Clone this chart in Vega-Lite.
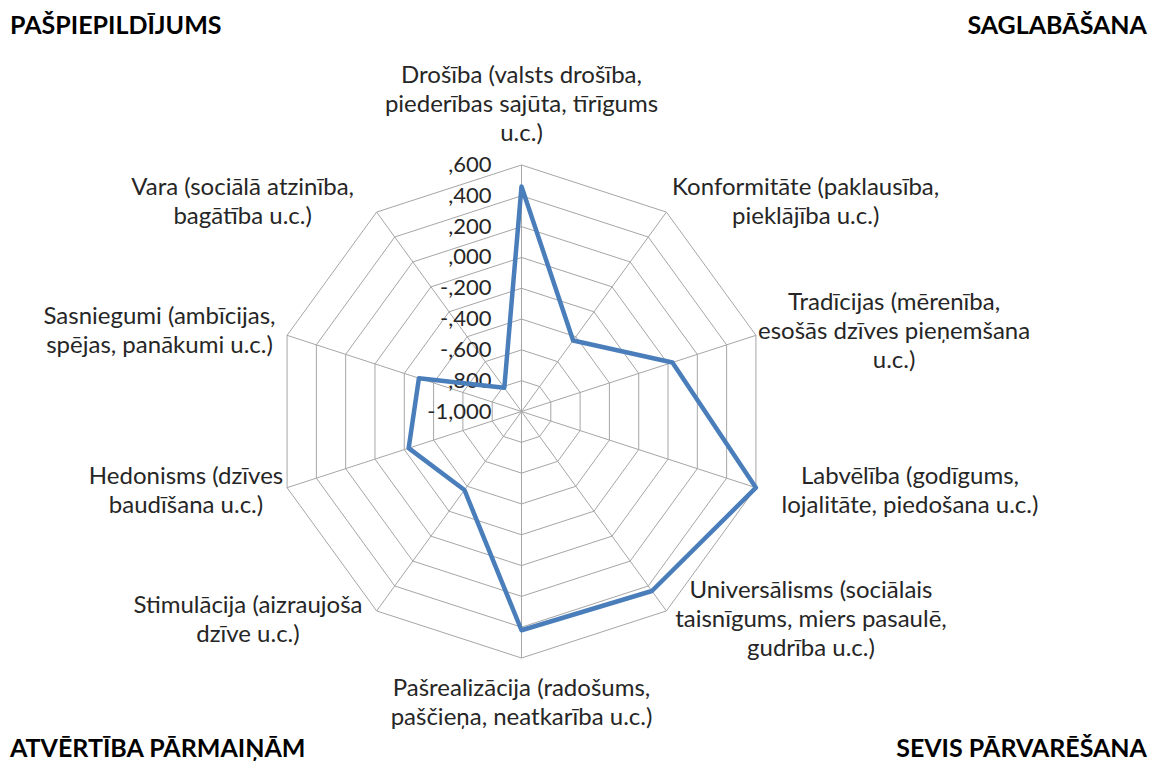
{
  "$schema": "https://vega.github.io/schema/vega-lite/v6.json",
  "width": 1151,
  "height": 764,
  "autosize": "none",
  "padding": 0,
  "background": "white",
  "config": {"view": {"stroke": null}, "font": "Lato"},
  "datasets": {
    "scores": [
      {"label": "Drošība (valsts drošība,\npiederības sajūta, tīrīgums\nu.c.)", "score": 0.46},
      {"label": "Konformitāte (paklausība,\npieklājība u.c.)", "score": -0.43},
      {"label": "Tradīcijas  (mērenība,\nesošās dzīves pieņemšana\nu.c.)", "score": 0.03},
      {"label": "Labvēlība (godīgums,\nlojalitāte, piedošana u.c.)", "score": 0.60},
      {"label": "Universālisms (sociālais\ntaisnīgums, miers pasaulē,\ngudrība u.c.)", "score": 0.44},
      {"label": "Pašrealizācija (radošums,\npaščieņa, neatkarība u.c.)", "score": 0.42},
      {"label": "Stimulācija (aizraujoša\ndzīve u.c.)", "score": -0.37},
      {"label": "Hedonisms (dzīves\nbaudīšana u.c.)", "score": -0.23},
      {"label": "Sasniegumi (ambīcijas,\nspējas, panākumi u.c.)", "score": -0.30},
      {"label": "Vara  (sociālā atzinība,\nbagātība u.c.)", "score": -0.81}
    ],
    "levels": [
      {"level": -1.0}, {"level": -0.8}, {"level": -0.6}, {"level": -0.4}, {"level": -0.2},
      {"level": 0.0}, {"level": 0.2}, {"level": 0.4}, {"level": 0.6}
    ],
    "corners": [
      {"name": "PAŠPIEPILDĪJUMS", "side": "left", "row": "top"},
      {"name": "SAGLABĀŠANA", "side": "right", "row": "top"},
      {"name": "ATVĒRTĪBA PĀRMAIŅĀM", "side": "left", "row": "bottom"},
      {"name": "SEVIS PĀRVARĒŠANA", "side": "right", "row": "bottom"}
    ]
  },
  "layer": [
    {
      "data": {"name": "levels"},
      "transform": [
        {"calculate": "[0,1,2,3,4,5,6,7,8,9]", "as": "k"},
        {"flatten": ["k"]},
        {"calculate": "datum.level + 1", "as": "r"},
        {"calculate": "datum.r * sin(datum.k * PI / 5)", "as": "gx"},
        {"calculate": "datum.r * cos(datum.k * PI / 5)", "as": "gy"}
      ],
      "mark": {"type": "line", "interpolate": "linear-closed", "color": "#a6a6a6", "strokeWidth": 1},
      "encoding": {
        "x": {"field": "gx", "type": "quantitative", "scale": {"domain": [-3.385, 4.086], "nice": false, "zero": false}, "axis": null},
        "y": {"field": "gy", "type": "quantitative", "scale": {"domain": [-2.288, 2.671], "nice": false, "zero": false}, "axis": null},
        "detail": {"field": "level", "type": "nominal"},
        "order": {"field": "k", "type": "quantitative"}
      }
    },
    {
      "data": {"name": "scores"},
      "transform": [
        {"window": [{"op": "row_number", "as": "idx"}]},
        {"calculate": "datum.idx - 1", "as": "k"},
        {"calculate": "0", "as": "cx"},
        {"calculate": "1.6 * sin(datum.k * PI / 5)", "as": "ox"},
        {"calculate": "1.6 * cos(datum.k * PI / 5)", "as": "oy"}
      ],
      "mark": {"type": "rule", "color": "#a6a6a6", "strokeWidth": 1},
      "encoding": {
        "x": {"field": "cx", "type": "quantitative"},
        "y": {"field": "cx", "type": "quantitative"},
        "x2": {"field": "ox"},
        "y2": {"field": "oy"}
      }
    },
    {
      "data": {"name": "levels"},
      "transform": [
        {"calculate": "datum.level + 1", "as": "r"},
        {"calculate": "0", "as": "cx"},
        {"calculate": "(datum.level < 0 ? '-' : '') + (abs(datum.level) >= 1 ? '1' : '') + ',' + substring(format(abs(datum.level), '.3f'), 2)", "as": "tick"}
      ],
      "mark": {"type": "text", "align": "right", "baseline": "middle", "dx": -30, "fontSize": 22, "color": "#262626"},
      "encoding": {
        "x": {"field": "cx", "type": "quantitative"},
        "y": {"field": "r", "type": "quantitative"},
        "text": {"field": "tick", "type": "nominal"}
      }
    },
    {
      "data": {"name": "scores"},
      "transform": [
        {"window": [{"op": "row_number", "as": "idx"}]},
        {"calculate": "datum.idx - 1", "as": "k"},
        {"calculate": "datum.score + 1", "as": "r"},
        {"calculate": "datum.r * sin(datum.k * PI / 5)", "as": "px"},
        {"calculate": "datum.r * cos(datum.k * PI / 5)", "as": "py"}
      ],
      "mark": {"type": "line", "interpolate": "linear-closed", "color": "#4a7ebb", "strokeWidth": 4.5, "strokeJoin": "round"},
      "encoding": {
        "x": {"field": "px", "type": "quantitative"},
        "y": {"field": "py", "type": "quantitative"},
        "order": {"field": "k", "type": "quantitative"}
      }
    },
    {
      "data": {"name": "scores"},
      "transform": [
        {"window": [{"op": "row_number", "as": "idx"}]},
        {"calculate": "datum.idx - 1", "as": "k"},
        {"calculate": "split(datum.label, '\\n')", "as": "ls"},
        {"calculate": "max(length(datum.ls[0]), length(datum.ls[1] || ''), length(datum.ls[2] || ''))", "as": "mx"},
        {"calculate": "length(datum.ls)", "as": "nl"},
        {"calculate": "sin(datum.k * PI / 5)", "as": "s"},
        {"calculate": "cos(datum.k * PI / 5)", "as": "c"},
        {"calculate": "(258 * datum.s + (abs(datum.s) > 0.01 ? (datum.s > 0 ? 1 : -1) * 5.3 * datum.mx : 0)) / 154.06", "as": "lx"},
        {"calculate": "(258 * datum.c + (abs(datum.c) > 0.99 ? (datum.c > 0 ? 1 : -1) * (datum.nl * 14.5 + 5) : 0) + (datum.nl - 1) * 14.5) / 154.06", "as": "ly"}
      ],
      "mark": {"type": "text", "align": "center", "baseline": "middle", "lineBreak": "\n", "lineHeight": 29, "fontSize": 24, "color": "#262626"},
      "encoding": {
        "x": {"field": "lx", "type": "quantitative"},
        "y": {"field": "ly", "type": "quantitative"},
        "text": {"field": "label", "type": "nominal"}
      }
    },
    {
      "data": {"name": "corners"},
      "transform": [
        {"filter": "datum.side == 'left'"},
        {"calculate": "-3.32", "as": "tx"},
        {"calculate": "datum.row == 'top' ? 2.502 : -2.191", "as": "ty"}
      ],
      "mark": {"type": "text", "align": "left", "baseline": "middle", "fontSize": 25, "fontWeight": "bold", "color": "#000000"},
      "encoding": {
        "x": {"field": "tx", "type": "quantitative"},
        "y": {"field": "ty", "type": "quantitative"},
        "text": {"field": "name", "type": "nominal"}
      }
    },
    {
      "data": {"name": "corners"},
      "transform": [
        {"filter": "datum.side == 'right'"},
        {"calculate": "4.06", "as": "tx"},
        {"calculate": "datum.row == 'top' ? 2.502 : -2.191", "as": "ty"}
      ],
      "mark": {"type": "text", "align": "right", "baseline": "middle", "fontSize": 25, "fontWeight": "bold", "color": "#000000"},
      "encoding": {
        "x": {"field": "tx", "type": "quantitative"},
        "y": {"field": "ty", "type": "quantitative"},
        "text": {"field": "name", "type": "nominal"}
      }
    }
  ]
}
